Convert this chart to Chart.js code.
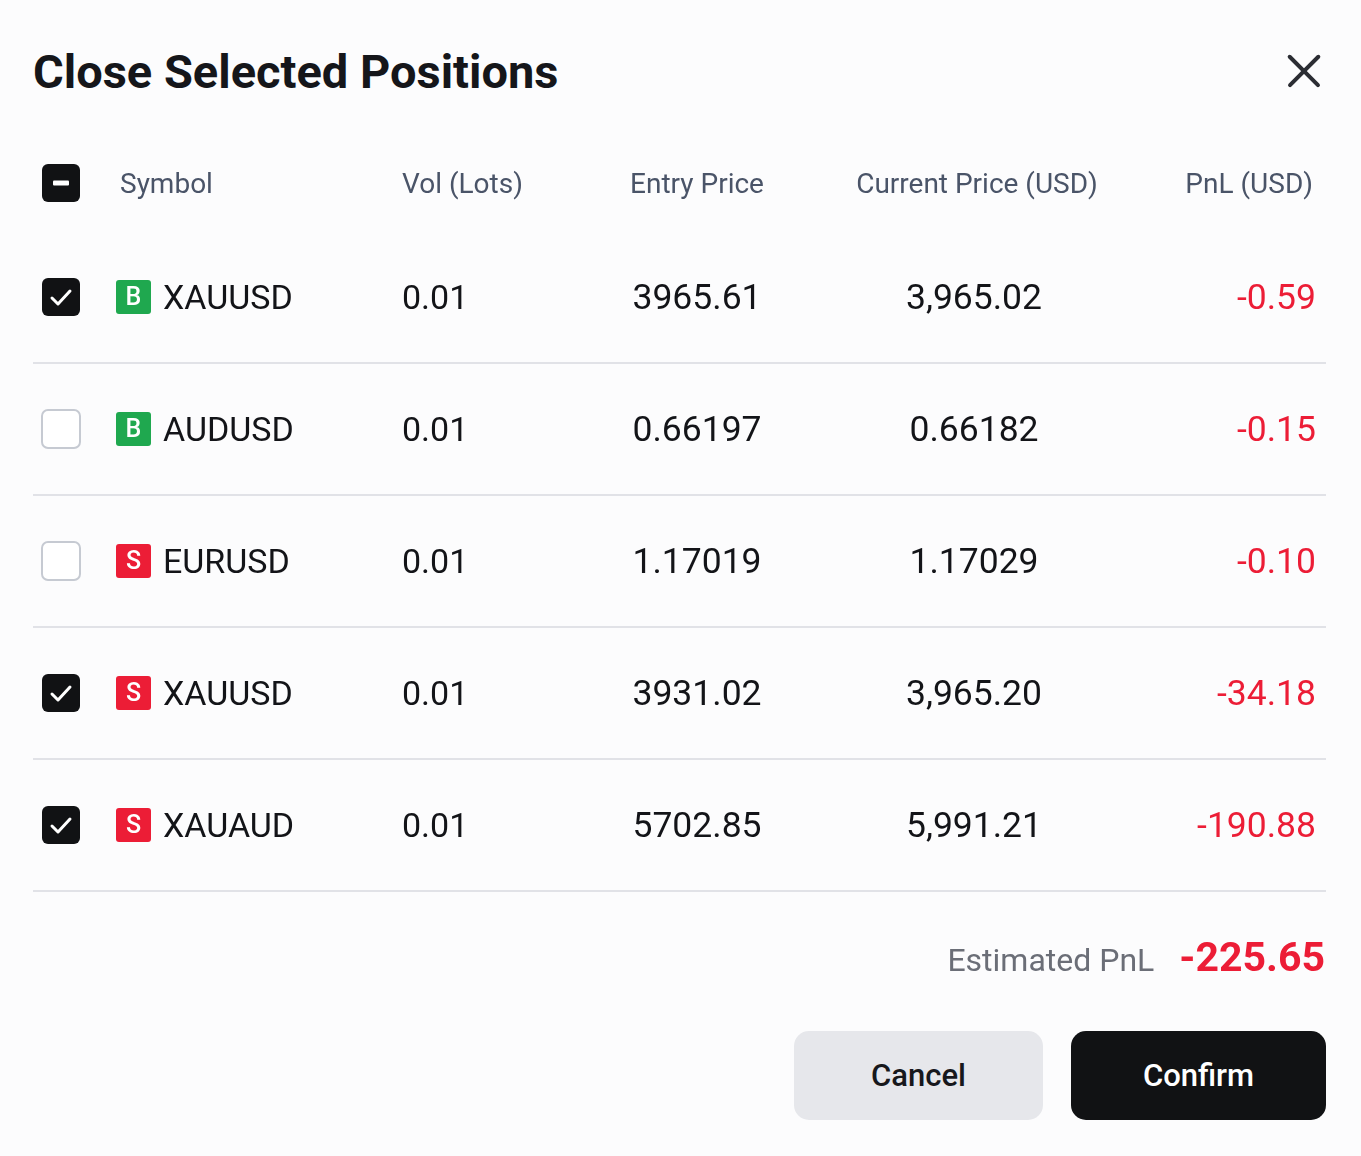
<!DOCTYPE html>
<html>
<head>
<meta charset="utf-8">
<title>Close Selected Positions</title>
<script src="https://cdn.jsdelivr.net/npm/chart.js@4.4.1/dist/chart.umd.min.js"></script>
<style>
  html, body { margin: 0; padding: 0; background: #fcfcfd; }
  body { width: 1361px; height: 1156px; position: relative; overflow: hidden; font-family: Roboto, 'Noto Sans', sans-serif; }
  h1 { position: absolute; left: 33px; top: 42px; margin: 0; font: 700 47px/60px Roboto, sans-serif; color: #15161a; }
  .close { position: absolute; left: 1286px; top: 53px; width: 36px; height: 36px; }
  .close::before, .close::after { content: ''; position: absolute; left: -4px; top: 16px; width: 44px; height: 3.5px; background: #2b2d33; border-radius: 2px; }
  .close::before { transform: rotate(45deg); }
  .close::after { transform: rotate(-45deg); }
  #table { position: absolute; left: 0; top: 0; }
  .estimate { position: absolute; right: 36px; top: 933px; display: flex; align-items: baseline; gap: 25px; }
  .estimate .label { font: 400 32px Roboto, sans-serif; color: #6b6e77; }
  .estimate .value { font: 700 41px Roboto, sans-serif; color: #ec1d36; }
  .btn { position: absolute; top: 1031px; height: 89px; border-radius: 15px; font: 500 31px/89px Roboto, sans-serif; text-align: center; }
  .cancel { left: 794px; width: 249px; background: #e6e7eb; color: #17181c; }
  .confirm { left: 1071px; width: 255px; background: #111214; color: #ffffff; }
</style>
</head>
<body>
<h1>Close Selected Positions</h1>
<div class="close"></div>
<canvas id="table" width="1361" height="1156"></canvas>
<div class="estimate"><span class="label">Estimated PnL</span><span class="value" id="est"></span></div>
<div class="btn cancel">Cancel</div>
<div class="btn confirm">Confirm</div>

<script>
// table data
const headers = ['Symbol', 'Vol (Lots)', 'Entry Price', 'Current Price (USD)', 'PnL (USD)'];
const symbols = ['XAUUSD', 'AUDUSD', 'EURUSD', 'XAUUSD', 'XAUAUD'];
const sides = ['B', 'B', 'S', 'S', 'S'];
const selected = [true, false, false, true, true];
const volumes = ['0.01', '0.01', '0.01', '0.01', '0.01'];
const entryPrices = ['3965.61', '0.66197', '1.17019', '3931.02', '5702.85'];
const currentPrices = ['3,965.02', '0.66182', '1.17029', '3,965.20', '5,991.21'];
const pnl = [-0.59, -0.15, -0.10, -34.18, -190.88];

// column anchors on the x scale (0 = left edge of the table)
const colPos = { check: 28, badge: 83, symbol: 130, vol: 369, entry: 664, current: 941, pnl: 1283 };
const headerPos = [87, 369, 664, 944, 1280];
const headerAlign = ['left', 'left', 'center', 'center', 'right'];

const GREEN = '#1fa84f';
const RED = '#ec1d36';
const textFont = '400 34px Roboto, sans-serif';
const numFont = '400 35.5px Roboto, sans-serif';
const TEXT_NUDGE = 3; // canvas 'middle' baseline sits a bit high

function column(key) {
  return symbols.map((s, i) => ({ x: colPos[key], y: i }));
}

function drawCheckbox(ctx, cx, cy, state) {
  const s = 38;
  ctx.beginPath();
  ctx.roundRect(cx - s / 2, cy - s / 2, s, s, 6);
  if (state === 'off') {
    ctx.fillStyle = '#ffffff';
    ctx.fill();
    ctx.lineWidth = 2;
    ctx.strokeStyle = '#c6cad2';
    ctx.stroke();
    return;
  }
  ctx.fillStyle = '#111214';
  ctx.fill();
  ctx.strokeStyle = '#ffffff';
  ctx.fillStyle = '#ffffff';
  if (state === 'mixed') {
    ctx.beginPath();
    ctx.roundRect(cx - 8, cy - 2.5, 16, 5, 1);
    ctx.fill();
  } else {
    ctx.lineWidth = 3;
    ctx.lineCap = 'round';
    ctx.lineJoin = 'round';
    ctx.beginPath();
    ctx.moveTo(cx - 9, cy + 1);
    ctx.lineTo(cx - 3, cy + 7);
    ctx.lineTo(cx + 9, cy - 6);
    ctx.stroke();
  }
}

const tablePlugin = {
  id: 'tableCells',
  afterDatasetsDraw(chart) {
    const { ctx, chartArea, scales: { x, y } } = chart;
    ctx.save();
    ctx.textBaseline = 'middle';

    // header row
    const hy = chartArea.top - 48;
    const anySel = selected.some(v => v);
    const allSel = selected.every(v => v);
    drawCheckbox(ctx, x.getPixelForValue(colPos.check), hy, allSel ? 'on' : (anySel ? 'mixed' : 'off'));
    ctx.font = '400 28px Roboto, sans-serif';
    ctx.fillStyle = '#4a5468';
    headers.forEach((h, i) => {
      ctx.textAlign = headerAlign[i];
      ctx.fillText(h, x.getPixelForValue(headerPos[i]), hy + TEXT_NUDGE);
    });

    // body rows, placed from each dataset's points
    const metas = chart.data.datasets.map((d, i) => chart.getDatasetMeta(i));
    symbols.forEach((sym, i) => {
      const pt = key => metas[chart.data.datasets.findIndex(d => d.label === key)].data[i];

      const c = pt('check');
      drawCheckbox(ctx, c.x, c.y, selected[i] ? 'on' : 'off');

      const b = pt('badge');
      ctx.beginPath();
      ctx.roundRect(b.x, b.y - 17, 35, 34, 3);
      ctx.fillStyle = sides[i] === 'B' ? GREEN : RED;
      ctx.fill();
      ctx.fillStyle = '#ffffff';
      ctx.font = '500 25px Roboto, sans-serif';
      ctx.textAlign = 'center';
      ctx.fillText(sides[i], b.x + 17.5, b.y + 2);

      const ty = TEXT_NUDGE;
      ctx.font = textFont;
      ctx.fillStyle = '#131418';
      const s = pt('symbol');
      ctx.textAlign = 'left';
      ctx.fillText(sym, s.x, s.y + ty);
      const v = pt('vol');
      ctx.fillText(volumes[i], v.x, v.y + ty);
      ctx.font = numFont;
      const e = pt('entry');
      ctx.textAlign = 'center';
      ctx.fillText(entryPrices[i], e.x, e.y + ty);
      const cu = pt('current');
      ctx.fillText(currentPrices[i], cu.x, cu.y + ty);
      const p = pt('pnl');
      ctx.textAlign = 'right';
      ctx.fillStyle = pnl[i] < 0 ? RED : GREEN;
      ctx.fillText(pnl[i].toFixed(2), p.x, p.y + ty);
    });
    ctx.restore();
  }
};

const datasets = Object.keys(colPos).map(key => ({
  label: key,
  data: column(key),
  pointRadius: 0,
  pointHoverRadius: 0
}));

new Chart(document.getElementById('table'), {
  type: 'scatter',
  data: { labels: symbols.map((s, i) => String(i)), datasets: datasets },
  options: {
    responsive: false,
    animation: false,
    events: [],
    layout: { padding: { top: 231, bottom: 265, left: 33, right: 35 } },
    plugins: { legend: { display: false }, tooltip: { enabled: false } },
    scales: {
      x: { type: 'linear', min: 0, max: 1293, display: false },
      y: {
        type: 'category',
        offset: true,
        ticks: { display: false },
        border: { display: false },
        grid: {
          offset: true,
          drawTicks: false,
          lineWidth: 2,
          color: ctx => ctx.index === 0 ? 'rgba(0,0,0,0)' : '#e1e2e7'
        },
        afterFit: scale => { scale.width = 0; }
      }
    }
  },
  plugins: [tablePlugin]
});

// total of the selected rows
const estimated = pnl.reduce((sum, v, i) => selected[i] ? sum + v : sum, 0);
document.getElementById('est').textContent = estimated.toFixed(2);
</script>
</body>
</html>
